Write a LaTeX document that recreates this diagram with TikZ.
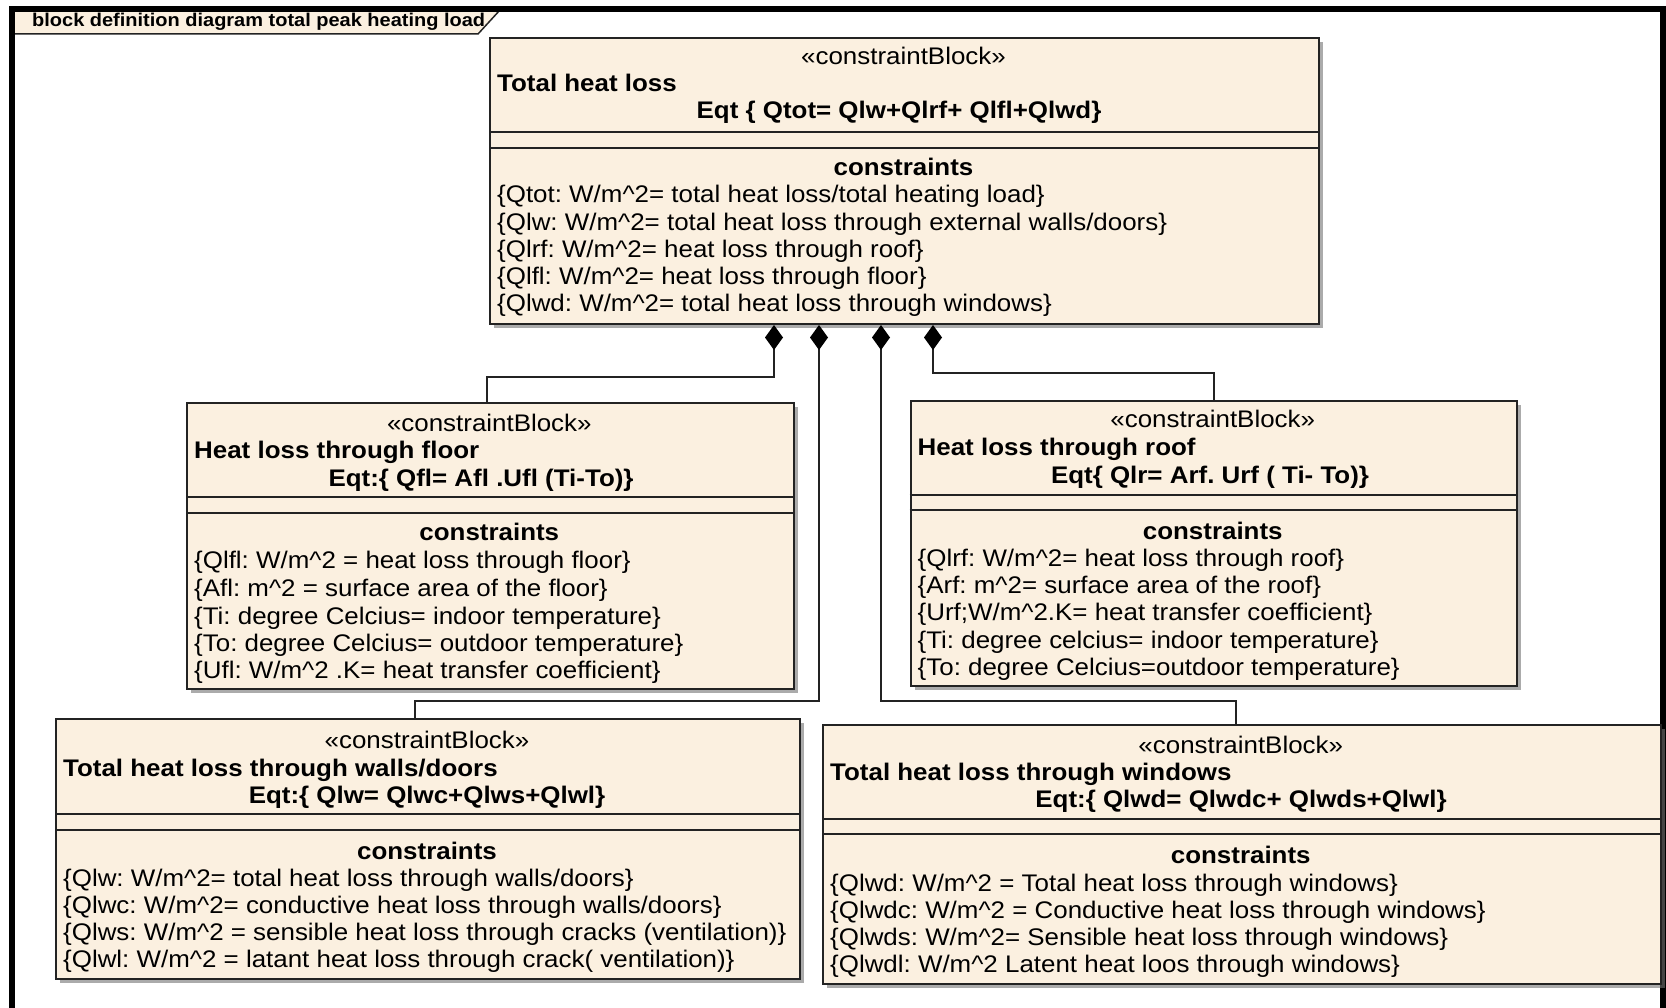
\documentclass[tikz,border=0pt]{standalone}
\usepackage{fontspec}
\setmainfont{Liberation Sans}[FakeStretch=1.08]
\usetikzlibrary{arrows.meta,shadows}
\definecolor{blockfill}{RGB}{251,240,224}
\definecolor{edgegray}{RGB}{35,35,35}
\newcommand{\txtsize}{\fontsize{24}{27}\selectfont}
\newcommand{\pw}{\textasciicircum}
\frenchspacing

\begin{document}
\begin{tikzpicture}[x=1pt,y=-1pt,
	cblock/.style={draw=edgegray,line width=2pt,fill=blockfill,anchor=north west,inner sep=0pt,
		drop shadow={shadow xshift=4pt,shadow yshift=-4pt,fill=black!55,opacity=0.6}},
	sep/.style={draw=edgegray,line width=2pt},
	ln/.style={anchor=base west,inner sep=0pt,font=\txtsize},
	mid/.style={anchor=base,inner sep=0pt,font=\txtsize},
	hd/.style={anchor=base west,inner sep=0pt,font=\txtsize\bfseries},
	hdmid/.style={anchor=base,inner sep=0pt,font=\txtsize\bfseries},
	comp/.style={draw=edgegray,line width=2pt,-{Diamond[length=25pt,width=18pt,fill=black,color=black]}}]
	\useasboundingbox (0,0) rectangle (1666,1008);
	\fill[white] (0,0) rectangle (1666,1008);
	\draw[fill=blockfill,draw=edgegray,line width=1.5pt] (12,10) -- (500,10) -- (478,34) -- (12,34);
	\node[anchor=base west,inner sep=0pt,font=\fontsize{18.5}{20}\selectfont\bfseries] (0) at (32,27) {block definition diagram total peak heating load};
	\draw[line width=6pt] (12,1015) -- (12,9) -- (1663,9) -- (1663,1015);

	\node[cblock,minimum width=829pt,minimum height=286pt] (tot) at (489,37) {};
	\draw[sep] (tot.west |- 0,132) -- (tot.east |- 0,132);
	\draw[sep] (tot.west |- 0,148) -- (tot.east |- 0,148);
	\node[mid] (1) at (903.5,65) {«constraintBlock»};
	\node[hd] (2) at (497,92) {Total heat loss};
	\node[hdmid] (3) at (899,119) {Eqt \{ Qtot= Qlw+Qlrf+ Qlfl+Qlwd\}};
	\node[hdmid] (4) at (903.5,176) {constraints};
	\node[ln] (5) at (497,203) {\{Qtot: W/m\pw2= total heat loss/total heating load\}};
	\node[ln] (6) at (497,231) {\{Qlw: W/m\pw2= total heat loss through external walls/doors\}};
	\node[ln] (7) at (497,258) {\{Qlrf: W/m\pw2= heat loss through roof\}};
	\node[ln] (8) at (497,285) {\{Qlfl: W/m\pw2= heat loss through floor\}};
	\node[ln] (9) at (497,312) {\{Qlwd: W/m\pw2= total heat loss through windows\}};

	\node[cblock,minimum width=606.6pt,minimum height=286pt] (flr) at (186,401.7) {};
	\draw[sep] (flr.west |- 0,496.7) -- (flr.east |- 0,496.7);
	\draw[sep] (flr.west |- 0,513) -- (flr.east |- 0,513);
	\node[mid] (10) at (489.3,431) {«constraintBlock»};
	\node[hd] (11) at (194,458) {Heat loss through floor};
	\node[hdmid] (12) at (481,486) {Eqt:\{ Qfl= Afl .Ufl (Ti-To)\}};
	\node[hdmid] (13) at (489.3,540) {constraints};
	\node[ln] (14) at (194,568) {\{Qlfl: W/m\pw2 = heat loss through floor\}};
	\node[ln] (15) at (194,596) {\{Afl: m\pw2 = surface area of the floor\}};
	\node[ln] (16) at (194,624) {\{Ti: degree Celcius= indoor temperature\}};
	\node[ln] (17) at (194,651) {\{To: degree Celcius= outdoor temperature\}};
	\node[ln] (18) at (194,678) {\{Ufl: W/m\pw2 .K= heat transfer coefficient\}};

	\node[cblock,minimum width=606.5pt,minimum height=285pt] (rf) at (909.5,400) {};
	\draw[sep] (rf.west |- 0,495) -- (rf.east |- 0,495);
	\draw[sep] (rf.west |- 0,510) -- (rf.east |- 0,510);
	\node[mid] (19) at (1212.75,428) {«constraintBlock»};
	\node[hd] (20) at (917.5,455) {Heat loss through roof};
	\node[hdmid] (21) at (1210,483) {Eqt\{ Qlr= Arf. Urf ( Ti- To)\}};
	\node[hdmid] (22) at (1212.75,539) {constraints};
	\node[ln] (23) at (917.5,566) {\{Qlrf: W/m\pw2= heat loss through roof\}};
	\node[ln] (24) at (917.5,593) {\{Arf: m\pw2= surface area of the roof\}};
	\node[ln] (25) at (917.5,620) {\{Urf;W/m\pw2.K= heat transfer coefficient\}};
	\node[ln] (26) at (917.5,648) {\{Ti: degree celcius= indoor temperature\}};
	\node[ln] (27) at (917.5,675) {\{To: degree Celcius=outdoor temperature\}};

	\node[cblock,minimum width=744pt,minimum height=259.4pt] (wl) at (55,718.3) {};
	\draw[sep] (wl.west |- 0,814) -- (wl.east |- 0,814);
	\draw[sep] (wl.west |- 0,830) -- (wl.east |- 0,830);
	\node[mid] (28) at (427,748) {«constraintBlock»};
	\node[hd] (29) at (63,776) {Total heat loss through walls/doors};
	\node[hdmid] (30) at (427,803) {Eqt:\{ Qlw= Qlwc+Qlws+Qlwl\}};
	\node[hdmid] (31) at (427,859) {constraints};
	\node[ln] (32) at (63,886) {\{Qlw: W/m\pw2= total heat loss through walls/doors\}};
	\node[ln] (33) at (63,913) {\{Qlwc: W/m\pw2= conductive heat loss through walls/doors\}};
	\node[ln] (34) at (63,940) {\{Qlws: W/m\pw2 = sensible heat loss through cracks (ventilation)\}};
	\node[ln] (35) at (63,967) {\{Qlwl: W/m\pw2 = latant heat loss through crack( ventilation)\}};

	\node[cblock,minimum width=837.5pt,minimum height=259.3pt] (wd) at (822,724) {};
	\draw[sep] (wd.west |- 0,819.3) -- (wd.east |- 0,819.3);
	\draw[sep] (wd.west |- 0,834.3) -- (wd.east |- 0,834.3);
	\node[mid] (36) at (1240.75,753) {«constraintBlock»};
	\node[hd] (37) at (830,780) {Total heat loss through windows};
	\node[hdmid] (38) at (1241,807) {Eqt:\{ Qlwd= Qlwdc+ Qlwds+Qlwl\}};
	\node[hdmid] (39) at (1240.75,863) {constraints};
	\node[ln] (40) at (830,891) {\{Qlwd: W/m\pw2 = Total heat loss through windows\}};
	\node[ln] (41) at (830,918) {\{Qlwdc: W/m\pw2 = Conductive heat loss through windows\}};
	\node[ln] (42) at (830,945) {\{Qlwds: W/m\pw2= Sensible heat loss through windows\}};
	\node[ln] (43) at (830,972) {\{Qlwdl: W/m\pw2 Latent heat loos through windows\}};

	\draw[comp] ([xshift=-3pt]flr.north) -- ++(0,-25) -| ([xshift=285pt]tot.south west);
	\draw[comp] ([xshift=-13pt]wl.north) -- ++(0,-17) -| ([xshift=330pt]tot.south west);
	\draw[comp] ([xshift=-6pt]wd.north) -- ++(0,-23) -| ([xshift=392pt]tot.south west);
	\draw[comp] (rf.north) -- ++(0,-27) -| ([xshift=444pt]tot.south west);
\end{tikzpicture}
\end{document}
